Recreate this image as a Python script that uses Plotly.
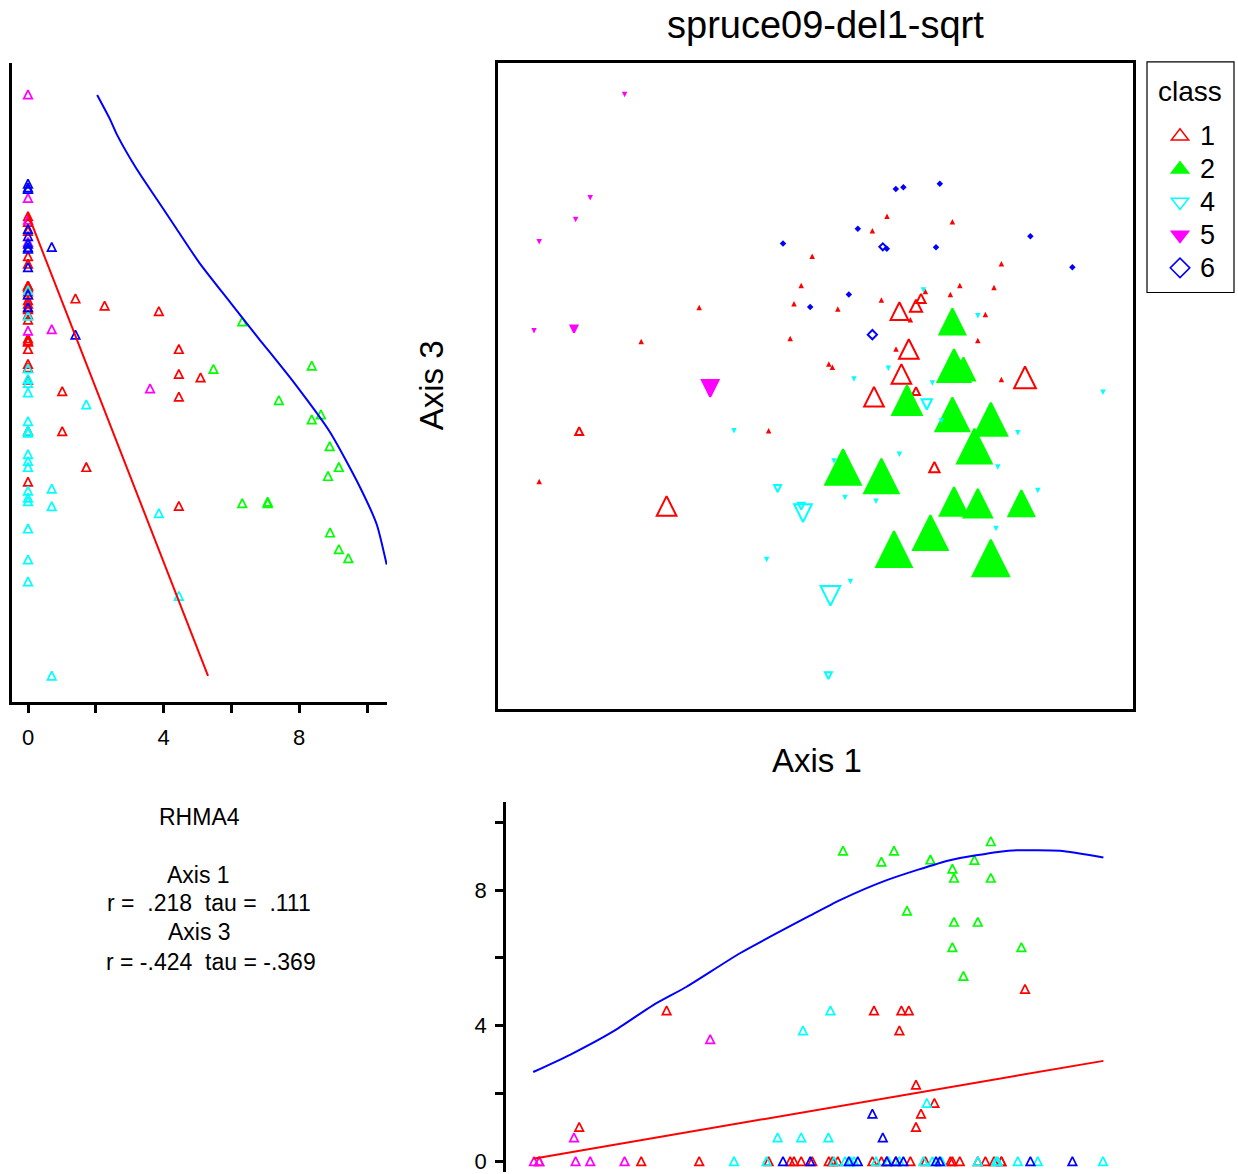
import plotly.graph_objects as go

# ---------------- data ----------------
# ordination scores (Axis 1, Axis 3), RHMA4 abundance, and group class
AX1 = [
    # class 1
    -0.742, 0.295, 0.432, 0.469, 1.050, 0.422, 0.505, 0.597, 0.530, 0.505, -1.179,
    -0.014, -0.069, -0.105, -0.579, -0.124, -0.869, 0.360, 0.687, 0.287, 0.932,
    0.724, 0.895, 0.677, 0.552, 0.114, 0.332, 0.477, 0.852, 0.814, 0.405,
    0.069, 0.087, 0.932, -0.232, -1.379,
    # class 2
    0.140, 0.332, 0.395, 0.577, 0.879, 0.797, 0.687, 0.695, 0.879, 0.460,
    0.695, 0.814, 0.687, 1.032, 0.742,
    # class 4
    -0.187, -0.069, -0.060, 0.559, 0.077, 0.067,
    0.542, 0.814, 0.367, 0.195, 0.587, 1.440, 0.632, 1.014, 0.095, 0.422,
    0.914, 0.150, 0.305, 1.114, 0.905, 0.177, -0.405, -0.242,
    # class 5
    -1.205, -0.524, -0.952, -1.124, -1.197, -1.379, -1.405,
    # class 6
    0.287, 0.339, -0.160, -0.024, 0.404, 0.442, 0.624, 0.214, 0.359, 0.605,
    1.077, 1.287, 0.169,
]
AX3 = [
    # class 1
    -0.604, -0.057, 0.057, 0.182, 0.040, 0.372, 0.399, -0.409, 0.435, -0.029, -0.229,
    0.647, 0.500, 0.409, 0.390, 0.235, 0.219, 0.847, 0.819, 0.774, 0.609,
    0.500, 0.490, 0.455, 0.470, 0.382, 0.427, 0.329, 0.355, 0.224, 0.182,
    0.107, 0.090, 0.029, -0.227, -0.482,
    # class 2
    -0.409, -0.454, -0.820, -0.737, -0.865, -0.304, -0.145, 0.099, -0.170, -0.074,
    -0.582, -0.590, 0.320, -0.590, 0.082,
    # class 4
    -0.517, -0.605, -0.640, -0.095, -1.054, -1.454,
    0.477, 0.349, 0.085, 0.032, 0.012, -0.035, -0.179, -0.237, -0.379, -0.345,
    -0.409, -0.562, -0.580, -0.527, -0.717, -0.982, -0.227, -0.872,
    # class 5
    0.282, -0.015, 1.457, 0.939, 0.830, 0.719, 0.274,
    # class 6
    0.254, 0.694, 0.710, 0.392, 0.984, 0.992, 1.010, 0.784, 0.684, 0.692,
    0.747, 0.592, 0.455,
]
RHMA4 = [
    # class 1
    4.45, 4.45, 4.45, 4.45, 5.09, 3.86, 2.26, 1.72, 1.40, 1.01, 1.01,
    0, 0, 0, 0, 0, 0, 0, 0, 0, 0,
    0, 0, 0, 0, 0, 0, 0, 0, 0, 0,
    0, 0, 0, 0, 0,
    # class 2
    9.17, 8.85, 9.17, 8.91, 9.45, 8.90, 8.64, 8.37, 8.37, 7.40,
    7.07, 7.07, 6.32, 6.32, 5.47,
    # class 4
    0.70, 0.70, 3.86, 1.72, 4.45, 0.70,
    0, 0, 0, 0, 0, 0, 0, 0, 0, 0,
    0, 0, 0, 0, 0, 0, 0, 0,
    # class 5
    0.70, 3.60, 0, 0, 0, 0, 0,
    # class 6
    1.40, 0.70, 0, 0, 0, 0, 0, 0, 0, 0,
    0, 0, 0,
]
CLASS = [
    1, 1, 1, 1, 1, 1, 1, 1, 1, 1, 1, 1, 1, 1, 1, 1, 1, 1,
    1, 1, 1, 1, 1, 1, 1, 1, 1, 1, 1, 1, 1, 1, 1, 1, 1, 1,
    2, 2, 2, 2, 2, 2, 2, 2, 2, 2, 2, 2, 2, 2, 2,
    4, 4, 4, 4, 4, 4, 4, 4, 4, 4, 4, 4, 4, 4, 4, 4, 4, 4, 4, 4, 4, 4, 4, 4,
    5, 5, 5, 5, 5, 5, 5,
    6, 6, 6, 6, 6, 6, 6, 6, 6, 6, 6, 6, 6,
]
CLASS_NAMES = [1, 2, 4, 5, 6]

# fitted lines / smoothers drawn in the side panels
LEFT_SMOOTH_VAL = [2.04, 2.42, 2.62, 3.21, 3.80, 4.39, 5.05, 5.96, 6.79, 7.83, 8.91, 9.79, 10.29, 10.58]
LEFT_SMOOTH_AX3 = [1.454, 1.332, 1.257, 1.082, 0.932, 0.782, 0.615, 0.417, 0.238, 0.017, -0.235, -0.509, -0.698, -0.898]
LEFT_FIT_VAL = [0.0, 5.31]
LEFT_FIT_AX3 = [0.857, -1.455]
BOTTOM_SMOOTH_AX1 = [-1.409, -1.225, -1.009, -0.809, -0.642, -0.375, -0.025, 0.125, 0.359, 0.675, 0.925, 1.009, 1.225, 1.442]
BOTTOM_SMOOTH_VAL = [2.63, 3.14, 3.83, 4.61, 5.15, 6.14, 7.25, 7.71, 8.30, 8.89, 9.14, 9.18, 9.17, 8.97]
BOTTOM_FIT_AX1 = [-1.409, 1.442]
BOTTOM_FIT_VAL = [0.07, 2.96]

TICK_VALS = [0, 2, 4, 6, 8, 10]
TICK_TEXT = ["0", "", "4", "", "8", ""]

TITLE = "spruce09-del1-sqrt"
STATS_LINES = ["RHMA4", "Axis 1", "r =\u00a0\u00a0.218\u00a0\u00a0tau =\u00a0\u00a0.111",
               "Axis 3", "r = -.424\u00a0\u00a0tau = -.369"]

# ---------------- styling ----------------
W, H = 1238, 1174
FONT = "Liberation Sans, Arial, Helvetica, sans-serif"
COLORS = {1: "#ff0000", 2: "#00ff00", 4: "#00ffff", 5: "#ff00ff", 6: "#0000ff"}
# triangles drawn as centred "arrow" glyphs (equal width and height, as in the reference)
SHAPE = {1: ("arrow-down-open", 180), 2: ("arrow-down", 180), 4: ("arrow-down-open", 0),
         5: ("arrow-down", 0), 6: ("diamond-open", 0)}
SHAPE_ZERO = {1: ("arrow-down", 180), 2: ("arrow-down", 180), 4: ("arrow-down", 0),
              5: ("arrow-down", 0), 6: ("diamond", 0)}
LEGEND_SYM = {1: "triangle-up-open", 2: "triangle-up", 4: "triangle-down-open",
              5: "triangle-down", 6: "diamond-open"}


def px_x(p):
    return p / W


def px_y(p):
    return 1 - p / H


def msize(v, c):
    w = 3.4 * v + 4.5
    if c == 6:
        return w / 1.3
    return w


def standoff(sizes, c):
    if c == 6:
        return 0
    return [s / 2 for s in sizes]


fig = go.Figure()

for c in CLASS_NAMES:
    idx = [i for i, k in enumerate(CLASS) if k == c]
    nz = [i for i in idx if RHMA4[i] > 0]
    zz = [i for i in idx if RHMA4[i] == 0]
    col = COLORS[c]
    # main panel: zero abundance -> tiny filled symbols
    zs = 5.5 if c != 6 else 5
    sym, ang = SHAPE_ZERO[c]
    fig.add_trace(go.Scatter(
        x=[AX1[i] for i in zz], y=[AX3[i] for i in zz], mode="markers",
        marker=dict(symbol=sym, angle=ang, size=zs, standoff=(zs / 2 if c != 6 else 0),
                    color=col, opacity=1, line=dict(width=0)),
        xaxis="x", yaxis="y", showlegend=False, hoverinfo="skip"))
    # main panel: sized by abundance
    sizes = [msize(RHMA4[i], c) for i in nz]
    sym, ang = SHAPE[c]
    fig.add_trace(go.Scatter(
        x=[AX1[i] for i in nz], y=[AX3[i] for i in nz], mode="markers",
        marker=dict(symbol=sym, angle=ang, size=sizes, standoff=standoff(sizes, c),
                    color=col, opacity=1, line=dict(width=2, color=col)),
        xaxis="x", yaxis="y", showlegend=False, hoverinfo="skip"))
    # left panel: RHMA4 vs Axis 3
    fig.add_trace(go.Scatter(
        x=[RHMA4[i] for i in idx], y=[AX3[i] for i in idx], mode="markers",
        marker=dict(symbol="arrow-down-open", angle=180, size=8.5, standoff=4.25,
                    color=col, opacity=1, line=dict(width=1.7, color=col)),
        xaxis="x2", yaxis="y2", showlegend=False, hoverinfo="skip"))
    # bottom panel: Axis 1 vs RHMA4
    fig.add_trace(go.Scatter(
        x=[AX1[i] for i in idx], y=[RHMA4[i] for i in idx], mode="markers",
        marker=dict(symbol="arrow-down-open", angle=180, size=8.5, standoff=4.25,
                    color=col, opacity=1, line=dict(width=1.7, color=col)),
        xaxis="x3", yaxis="y3", showlegend=False, hoverinfo="skip"))

# lines in the side panels
fig.add_trace(go.Scatter(x=LEFT_FIT_VAL, y=LEFT_FIT_AX3, mode="lines",
                         line=dict(color="#ff0000", width=2), xaxis="x2", yaxis="y2",
                         showlegend=False, hoverinfo="skip"))
fig.add_trace(go.Scatter(x=LEFT_SMOOTH_VAL, y=LEFT_SMOOTH_AX3, mode="lines",
                         line=dict(color="#0000ff", width=2, shape="spline", smoothing=0.6),
                         xaxis="x2", yaxis="y2", showlegend=False, hoverinfo="skip"))
fig.add_trace(go.Scatter(x=BOTTOM_FIT_AX1, y=BOTTOM_FIT_VAL, mode="lines",
                         line=dict(color="#ff0000", width=2), xaxis="x3", yaxis="y3",
                         showlegend=False, hoverinfo="skip"))
fig.add_trace(go.Scatter(x=BOTTOM_SMOOTH_AX1, y=BOTTOM_SMOOTH_VAL, mode="lines",
                         line=dict(color="#0000ff", width=2, shape="spline", smoothing=0.6),
                         xaxis="x3", yaxis="y3", showlegend=False, hoverinfo="skip"))

# legend entries
for c in CLASS_NAMES:
    fig.add_trace(go.Scatter(
        x=[None], y=[None], mode="markers",
        name="<span style='font-size:27px'>%d</span>" % c,
        marker=dict(symbol=LEGEND_SYM[c], size=15, color=COLORS[c], opacity=1,
                    line=dict(width=1.5, color=COLORS[c])),
        xaxis="x", yaxis="y", showlegend=True))

common = dict(showgrid=False, zeroline=False)

fig.update_layout(
    width=W, height=H,
    margin=dict(l=0, r=0, t=0, b=0),
    paper_bgcolor="white", plot_bgcolor="white",
    font=dict(family=FONT, color="black"),
    # main ordination panel
    xaxis=dict(domain=[px_x(498), px_x(1133)], range=[-1.585, 1.59], showticklabels=False,
               ticks="", showline=True, mirror=True, linecolor="black", linewidth=2.5,
               anchor="y", **common),
    yaxis=dict(domain=[px_y(710), px_y(63)], range=[-1.62, 1.615], showticklabels=False,
               ticks="", showline=True, mirror=True, linecolor="black", linewidth=2.5,
               anchor="x", **common),
    # left panel
    xaxis2=dict(domain=[px_x(12), px_x(387)], range=[-0.472, 10.59], anchor="y2",
                showline=True, linecolor="black", linewidth=2.5, ticks="outside",
                ticklen=8, tickwidth=2.5, tickcolor="black", tickvals=TICK_VALS,
                ticktext=TICK_TEXT, tickfont=dict(size=22), ticklabelstandoff=6, **common),
    yaxis2=dict(domain=[px_y(703), px_y(63)], range=[-1.585, 1.615], anchor="x2",
                showline=True, linecolor="black", linewidth=2.5, showticklabels=False,
                ticks="", **common),
    # bottom panel
    xaxis3=dict(domain=[px_x(506), px_x(1133)], range=[-1.545, 1.59], anchor="y3",
                showline=False, showticklabels=False, ticks="", **common),
    yaxis3=dict(domain=[0, px_y(803)], range=[-0.324, 10.62], anchor="x3",
                showline=True, linecolor="black", linewidth=2.5, ticks="outside",
                ticklen=8, tickwidth=2.5, tickcolor="black", tickvals=TICK_VALS,
                ticktext=TICK_TEXT, tickfont=dict(size=22), ticklabelstandoff=4,
                ticklabeloverflow="allow", **common),
    legend=dict(x=px_x(1160), y=px_y(115), xanchor="left", yanchor="top",
                borderwidth=0, bgcolor="rgba(0,0,0,0)", font=dict(size=23),
                tracegroupgap=0),
    shapes=[dict(type="rect", xref="paper", yref="paper",
                 x0=px_x(1147), x1=px_x(1234), y0=px_y(293), y1=px_y(62),
                 line=dict(color="black", width=1.2), fillcolor="rgba(0,0,0,0)")],
)

annotations = [
    dict(text=TITLE, x=px_x(825), y=px_y(25.5), font=dict(size=38)),
    dict(text="Axis 1", x=px_x(817), y=px_y(762), font=dict(size=33)),
    dict(text="Axis 3", x=px_x(431), y=px_y(386), font=dict(size=33), textangle=-90),
    dict(text="class", x=px_x(1190), y=px_y(92), font=dict(size=28)),
]
stats_pos = [(199, 818.5), (198, 876), (209, 905), (199, 933.5), (211, 963.5)]
for line, (sx, sy) in zip(STATS_LINES, stats_pos):
    annotations.append(dict(text=line, x=px_x(sx), y=px_y(sy), font=dict(size=23)))
for a in annotations:
    a.update(xref="paper", yref="paper", showarrow=False, xanchor="center", yanchor="middle")
fig.update_layout(annotations=annotations)

fig.write_html("out.html", config={"displayModeBar": False},
               post_script="document.body.style.margin='0px';")
